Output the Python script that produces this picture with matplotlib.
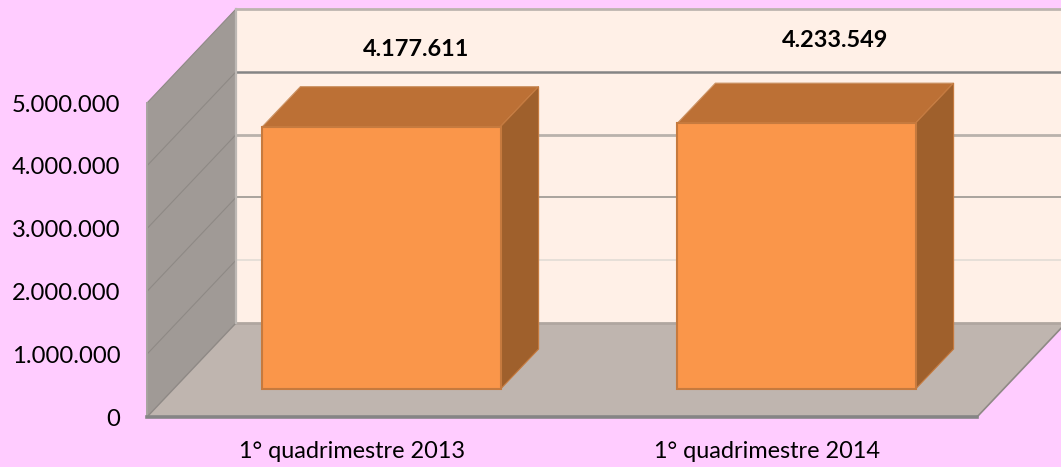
import matplotlib
matplotlib.use("Agg")
import matplotlib.pyplot as plt
from matplotlib.patches import Polygon
from matplotlib.transforms import IdentityTransform, Affine2D

categories = ["1° quadrimestre 2013", "1° quadrimestre 2014"]
values = [4177611, 4233549]
value_labels = ["4.177.611", "4.233.549"]
y_ticks = [0, 1000000, 2000000, 3000000, 4000000, 5000000]
y_labels = ["0", "1.000.000", "2.000.000", "3.000.000", "4.000.000", "5.000.000"]
grid_colors = ["#B0A6A0", "#E2DCD6", "#A9A39D", "#B9B2AC", "#858585", "#BDB5AF"]
grid_widths = [2, 1.2, 1.4, 2, 1.8, 2]
label_offsets = [(35, 77), (39, 83)]

plt.rcParams["font.family"] = ["Lato", "DejaVu Sans"]
BG, BACK, WALL, FLOOR = "#FFCCFF", "#FFF0E7", "#A09A96", "#BFB5AF"
FRONT, TOP, SIDE, EDGE = "#FA964A", "#BC7035", "#9F602C", "#C67A3E"
W, H = 1061, 467
DX, DY = 89, 94                 # full depth of the chart box, pixels
B0 = (27, 28)                   # front of the bars
B1 = (65, 68)                   # back of the bars

fig = plt.figure(figsize=(W / 100, H / 100), dpi=100, facecolor=BG)
ax = fig.add_axes([147 / W, (H - 417) / H, 830 / W, 314 / H])
ax.set_xlim(0, 2)
ax.set_ylim(0, 5000000)
ax.patch.set_visible(False)
for s in ax.spines.values():
    s.set_visible(False)

def P(x, y, dx=0, dy=0):
    px, py = ax.transData.transform((x, y))
    return (px + dx, py + dy)

def poly(pts, fc, ec="none", lw=0, z=1):
    fig.add_artist(Polygon(pts, closed=True, fc=fc, ec=ec, lw=lw, zorder=z,
                           transform=IdentityTransform()))

def line(p, q, c, lw, z=2):
    fig.add_artist(plt.Line2D([p[0], q[0]], [p[1], q[1]], color=c, lw=lw, zorder=z,
                              transform=IdentityTransform()))

top = y_ticks[-1]
# Back wall, floor, side wall
poly([P(0, 0, DX, DY), P(0, top, DX, DY), P(2, top, DX, DY), P(2, 0, DX, DY)], BACK, z=1)
poly([P(0, 0), P(2, 0), P(2, 0, DX, DY), P(0, 0, DX, DY)], FLOOR, z=1.5)
poly([P(0, 0), P(0, top), P(0, top, DX, DY), P(0, 0, DX, DY)], WALL, z=1.6)
for v, c, lw in zip(y_ticks, grid_colors, grid_widths):
    line(P(0, v, DX, DY), P(2, v, DX, DY), c, lw, z=1.7 if v else 1.55)
    if v:
        line(P(0, v), P(0, v, DX, DY), "#8E8985", 0.8, z=1.8)
line(P(0, 0), P(0, 0, DX, DY), "#8E8985", 1.0, z=1.8)
line(P(0, 0, DX, DY), P(0, top, DX, DY), "#BDB8B4", 1.6, z=1.8)
line(P(0, 0), P(0, top), "#A8A3A0", 1.4, z=1.8)
line(P(2, 0), P(2, 0, DX, DY), "#8E8985", 1.2, z=1.8)
line(P(0, 0), P(2, 0), "#858585", 2.6, z=1.9)

# Bars: front faces through the axes, shifted into the box; top and side from the same values
shift = Affine2D().translate(*B0)
centers = [0.5, 1.5]
bar_w = 0.574
bars = ax.bar(centers, values, width=bar_w, color=FRONT, edgecolor=EDGE, linewidth=1.5,
              transform=ax.transData + shift, zorder=5, clip_on=False)
ax.set_zorder(3)
for c, v, lab, (ox, oy) in zip(centers, values, value_labels, label_offsets):
    l, r = c - bar_w / 2, c + bar_w / 2
    poly([P(l, v, *B0), P(l, v, *B1), P(r, v, *B1), P(r, v, *B0)], TOP, "#CC9466", 0.8, z=2.5)
    poly([P(r, 0, *B0), P(r, v, *B0), P(r, v, *B1), P(r, 0, *B1)], SIDE, EDGE, 0.8, z=2.5)
    ax.annotate(lab, xy=(c, v), xycoords=ax.transData + shift, xytext=(ox, oy),
                textcoords="offset pixels", ha="center", va="center",
                fontsize=16.9, fontweight="bold", color="black", zorder=6)

ax.set_xticks(centers)
ax.set_xticklabels(categories, fontsize=16.9)
ax.set_yticks(y_ticks)
ax.set_yticklabels(y_labels, fontsize=17.1)
ax.tick_params(axis="x", length=0, pad=17, colors="black")
ax.tick_params(axis="y", length=0, pad=19, colors="black")
for t in ax.get_xticklabels():
    t.set_transform(t.get_transform() + Affine2D().translate(-2.5, 0))

fig.savefig("out.png", dpi=100, facecolor=BG)
